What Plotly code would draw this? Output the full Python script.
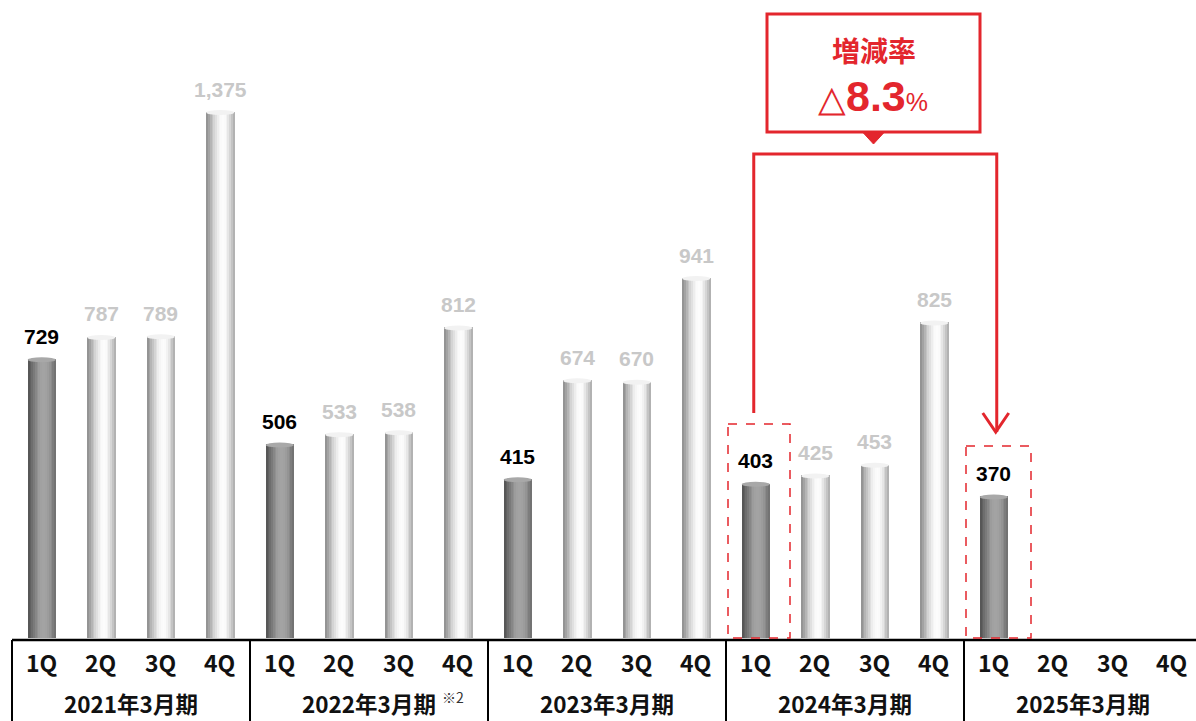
import plotly.graph_objects as go

# Quarterly figures by fiscal year (None = not yet reported)
years = ["2021年3月期", "2022年3月期", "2023年3月期", "2024年3月期", "2025年3月期"]
year_notes = ["", "※2", "", "", ""]
quarters = ["1Q", "2Q", "3Q", "4Q"]
values_2021 = [729, 787, 789, 1375]
values_2022 = [506, 533, 538, 812]
values_2023 = [415, 674, 670, 941]
values_2024 = [403, 425, 453, 825]
values_2025 = [370, None, None, None]
change_rate_label = "8.3"

all_values = values_2021 + values_2022 + values_2023 + values_2024 + values_2025
n = len(all_values)
xs = list(range(n))

RED = "#e3262d"
PX_PER_UNIT = 0.3825          # vertical pixels per value unit
SLOT_PX = 59.5                # horizontal pixels per quarter slot
H, W = 721, 1196
BASE_PX = 638                 # pixel row of the value baseline

y_max = BASE_PX / PX_PER_UNIT
y_min = -(H - BASE_PX) / PX_PER_UNIT
x_min = -0.5 - 12 / SLOT_PX
x_max = x_min + W / SLOT_PX
upx = 1 / PX_PER_UNIT           # value units per pixel (vertical)
xpx = 1 / SLOT_PX               # x units per pixel


def px_x(p):
    return x_min + p * xpx


def px_y(p):
    return (BASE_PX - p) * upx


fig = go.Figure()

# Cylinder look: each bar built from narrow vertical strips with a shading profile
bar_w = 28 * xpx
strips = 16
light_profile = [0.58, 0.64, 0.71, 0.77, 0.83, 0.88, 0.93, 0.96, 0.98, 0.99, 0.98, 0.95, 0.90, 0.84, 0.77, 0.70]
dark_profile = [0.34, 0.38, 0.43, 0.48, 0.53, 0.57, 0.61, 0.63, 0.64, 0.64, 0.63, 0.61, 0.58, 0.54, 0.49, 0.45]

is_first = [i % 4 == 0 for i in xs]
sw = bar_w / strips
for k in range(strips):
    colors = []
    for i in xs:
        p = dark_profile[k] if is_first[i] else light_profile[k]
        g = int(round(255 * p))
        colors.append(f"rgb({g},{g},{g})")
    fig.add_trace(go.Bar(
        x=xs, y=all_values,
        offset=-bar_w / 2 + k * sw, width=sw * 1.25,
        marker=dict(color=colors, line=dict(width=0)),
        hoverinfo="skip", showlegend=False,
    ))

# Elliptical cap on each cylinder top
for i, v in enumerate(all_values):
    if v is None:
        continue
    cap = "#a8a8a8" if is_first[i] else "#f2f2f2"
    fig.add_shape(type="circle", x0=i - bar_w / 2, x1=i + bar_w / 2,
                  y0=v - 3 * upx, y1=v + 2 * upx,
                  fillcolor=cap, line=dict(width=0), layer="above")

# Value labels above the bars
for i, v in enumerate(all_values):
    if v is None:
        continue
    fig.add_annotation(
        x=i, y=v + 23 * upx, text=f"{v:,}", showarrow=False,
        font=dict(family="Liberation Sans, Arial", size=21,
                  color="#000000" if is_first[i] else "#c8c8c8", weight="bold"),
        xanchor="center", yanchor="middle",
    )

# Category table beneath the baseline
table_top = -2 * upx
fig.add_shape(type="line", x0=-0.5, x1=x_max, y0=table_top, y1=table_top,
              line=dict(color="black", width=2.5))
for g in range(len(years)):
    xb = g * 4 - 0.5
    fig.add_shape(type="line", x0=xb, x1=xb, y0=table_top, y1=y_min,
                  line=dict(color="black", width=2))
for i in xs:
    fig.add_annotation(x=i, y=-24 * upx, text=quarters[i % 4], showarrow=False,
                       font=dict(family="Noto Sans CJK JP", size=23, color="#111111", weight=600),
                       xanchor="center", yanchor="middle")
for g, yr in enumerate(years):
    fig.add_annotation(x=g * 4 + 1.5, y=-65 * upx, text=yr, showarrow=False,
                       font=dict(family="Noto Sans CJK JP", size=22.5, color="#111111", weight="bold"),
                       xanchor="center", yanchor="middle")
    if year_notes[g]:
        fig.add_annotation(x=g * 4 + 1.5 + 71 * xpx, y=-59 * upx, text=year_notes[g],
                           showarrow=False, xanchor="left", yanchor="middle",
                           font=dict(family="Noto Sans CJK JP", size=14, color="#333333"))

# Dashed boxes around the compared quarters
i_prev, i_cur = 12, 16
for x0p, x1p, top_px in ((728, 790, 424), (966, 1031, 446)):
    fig.add_shape(type="rect", x0=px_x(x0p), x1=px_x(x1p),
                  y0=px_y(top_px), y1=0,
                  line=dict(color=RED, width=1.5, dash="dash"))

# Bracket connecting the two quarters
bracket_y = px_y(154)
fig.add_shape(type="path",
              path=(f"M {i_prev - 2*xpx},{px_y(413)} L {i_prev - 2*xpx},{bracket_y} "
                    f"L {i_cur + 3*xpx},{bracket_y} L {i_cur + 3*xpx},{px_y(432)}"),
              line=dict(color=RED, width=3))
tip_x = i_cur + 2 * xpx
fig.add_shape(type="path",
              path=(f"M {tip_x - 13*xpx},{px_y(413)} L {tip_x},{px_y(432)} "
                    f"L {tip_x + 13*xpx},{px_y(413)}"),
              line=dict(color=RED, width=3))

# Callout box with pointer
bx0, bx1 = 767, 980
by0, by1 = 14, 132
cx = (bx0 + bx1) / 2
fig.add_shape(type="rect", x0=px_x(bx0), x1=px_x(bx1), y0=px_y(by1), y1=px_y(by0),
              line=dict(color=RED, width=3), fillcolor="white")
fig.add_shape(type="path",
              path=(f"M {px_x(cx - 11)},{px_y(by1)} L {px_x(cx)},{px_y(144)} "
                    f"L {px_x(cx + 11)},{px_y(by1)} Z"),
              fillcolor=RED, line=dict(color=RED, width=1))
fig.add_annotation(x=px_x(cx), y=px_y(50), text="増減率", showarrow=False,
                   font=dict(family="Noto Sans CJK JP", size=28, color=RED, weight="bold"),
                   xanchor="center", yanchor="middle")
fig.add_annotation(
    x=px_x(cx - 1), y=px_y(96),
    text=(f"<span style='font-size:36px;font-weight:200'>△</span>"
          f"<b><span style='font-size:43px'>{change_rate_label}</span></b>"
          f"<span style='font-size:25px'>%</span>"),
    showarrow=False, font=dict(family="Liberation Sans, Arial", size=36, color=RED),
    xanchor="center", yanchor="middle")

fig.update_layout(
    width=W, height=H,
    margin=dict(l=0, r=0, t=0, b=0),
    paper_bgcolor="white", plot_bgcolor="white",
    barmode="overlay", bargap=0,
    xaxis=dict(range=[x_min, x_max], visible=False, fixedrange=True),
    yaxis=dict(range=[y_min, y_max], visible=False, fixedrange=True),
    showlegend=False,
)

fig.write_html("out.html")
